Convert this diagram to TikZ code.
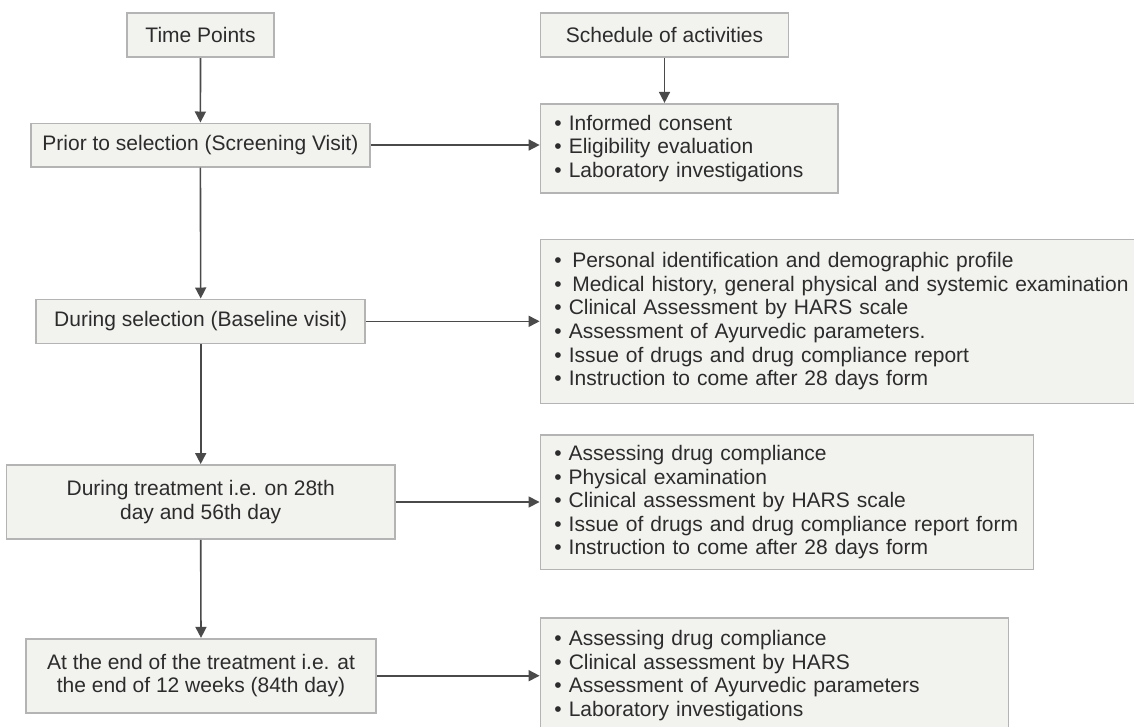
\documentclass[tikz,border=0pt]{standalone}
\usepackage{fontspec}
\setmainfont{Liberation Sans}
\usetikzlibrary{arrows.meta}
\definecolor{boxfill}{HTML}{F2F2EF}
\definecolor{boxline}{HTML}{B4B4B4}
\definecolor{txt}{HTML}{2C2C2C}
\definecolor{arr}{HTML}{4A4A4A}
\begin{document}
\begin{tikzpicture}[x=1pt,y=-1pt,
  box/.style={draw=boxline, fill=boxfill, line width=1.6pt, text=txt,
    font=\fontsize{21}{23.6}\selectfont, inner sep=0pt},
  tbox/.style={box, align=center},
  lbox/.style={box, align=left, inner xsep=14pt},
  arrow/.style={draw=arr, line width=1.6pt, -{Triangle[length=11pt,width=11pt]}}]
\useasboundingbox[fill=white] (0,0) rectangle (1134,726);

\node[tbox, minimum width=146.5pt, minimum height=44.5pt] (tp) at (200.5,35) {Time Points};
\node[tbox, minimum width=248pt, minimum height=44pt] (sched) at (664.5,35) {Schedule of activities};

\node[tbox, minimum width=339.3pt, minimum height=43.4pt] (prior) at (200.4,145) {Prior to selection (Screening Visit)};
\node[tbox, minimum width=329pt, minimum height=44pt] (sel) at (200.7,321.3) {During selection (Baseline visit)};
\node[tbox, minimum width=388.5pt, minimum height=74.3pt] (treat) at (200.7,502) {During treatment i.e. on 28th\\day and 56th day};
\node[tbox, minimum width=350pt, minimum height=74pt] (endt) at (201,675.7) {At the end of the treatment i.e. at\\the end of 12 weeks (84th day)};

\node[lbox, text width=269.5pt, minimum height=89pt] (b1) at (689.2,148.2)
  {• Informed consent\\• Eligibility evaluation\\• Laboratory investigations};
\node[lbox, text width=581.6pt, minimum height=164pt] (b2) at (845.2,321.3)
  {•\hspace{10.5pt}Personal identification and demographic profile\\
   •\hspace{10.5pt}Medical history, general physical and systemic examination\\
   • Clinical Assessment by HARS scale\\
   • Assessment of Ayurvedic parameters.\\
   • Issue of drugs and drug compliance report\\
   • Instruction to come after 28 days form};
\node[lbox, text width=465.3pt, minimum height=134.3pt] (b3) at (787,502.2)
  {• Assessing drug compliance\\
   • Physical examination\\
   • Clinical assessment by HARS scale\\
   • Issue of drugs and drug compliance report form\\
   • Instruction to come after 28 days form};
\node[lbox, text width=440.2pt, minimum height=115pt] (b4) at (774.5,675.5)
  {• Assessing drug compliance\\
   • Clinical assessment by HARS\\
   • Assessment of Ayurvedic parameters\\
   • Laboratory investigations};

\draw[arrow] (tp.south) -- (prior.north);
\draw[arrow] (prior.south) -- (sel.north);
\draw[arrow] (sel.south) -- (treat.north);
\draw[arrow] (treat.south) -- (endt.north);
\draw[arrow] (sched.south) -- (sched.south |- b1.north);
\draw[arrow] (prior.east) -- (prior.east -| b1.west);
\draw[arrow] (sel.east) -- (sel.east -| b2.west);
\draw[arrow] (treat.east) -- (treat.east -| b3.west);
\draw[arrow] (endt.east) -- (endt.east -| b4.west);
\end{tikzpicture}
\end{document}
